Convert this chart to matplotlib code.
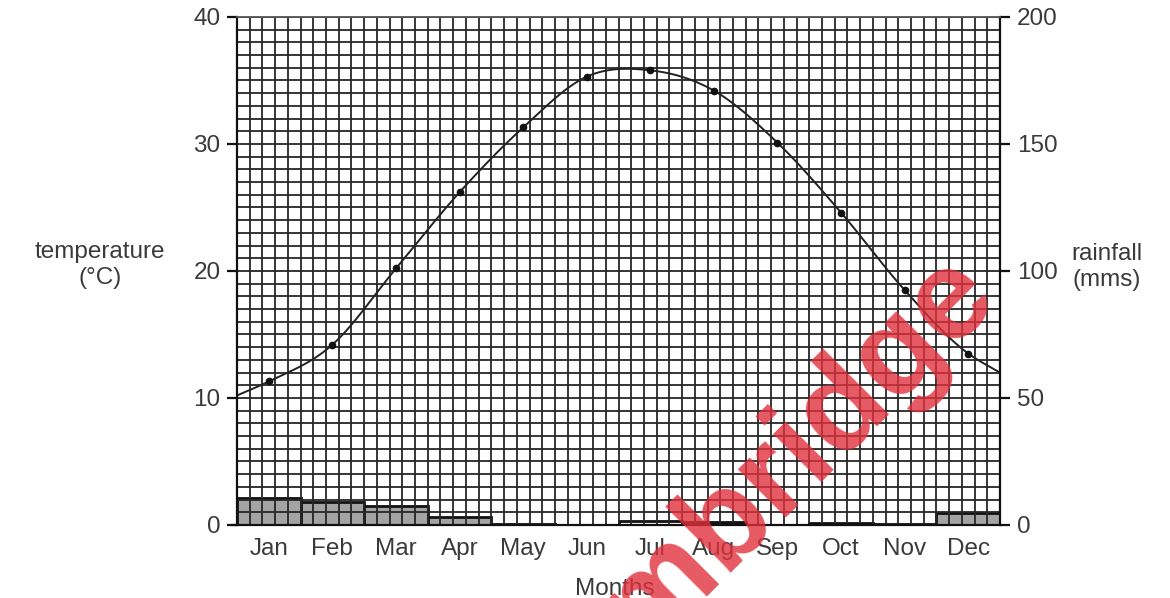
import numpy as np
import matplotlib
matplotlib.use("Agg")
import matplotlib.pyplot as plt

months = ["Jan", "Feb", "Mar", "Apr", "May", "Jun", "Jul", "Aug", "Sep", "Oct", "Nov", "Dec"]
temperature = [11.3, 14.2, 20.2, 26.2, 31.3, 35.3, 35.8, 34.2, 30.1, 24.6, 18.5, 13.5]
temp_start, temp_end = 10.2, 12.0          # where the curve meets the axes edges
rainfall = [10.6, 9.0, 7.5, 3.1, 0.3, 0.0, 1.4, 1.2, 0.0, 0.8, 0.2, 4.7]
rain_fill = ["#a4a4a4", "#a4a4a4", "#a4a4a4", "#a4a4a4", "#a4a4a4", "#a4a4a4",
             "white", "#333333", "#a4a4a4", "white", "#a4a4a4", "#a4a4a4"]
temp_ticks = [0, 10, 20, 30, 40]
rain_ticks = [0, 50, 100, 150, 200]

plt.rcParams['font.family'] = ['Liberation Sans', 'DejaVu Sans']
TXT = "#3a3a3a"
FS = 17.5

fig = plt.figure(figsize=(11.70, 5.98), dpi=100)
ax = fig.add_axes([0.2026, 0.1221, 0.6521, 0.8495])
ax.set_xlim(0, 12)
ax.set_ylim(0, 40)

# graph-paper grid
for xv in np.arange(0, 12.01, 0.2):
    ax.axvline(xv, color="#262626", lw=1.3, zorder=1)
for yv in np.arange(1, 40.01, 1):
    ax.axhline(yv, color="#262626", lw=1.3, zorder=1)

# rainfall bars on the twin axis
ax2 = ax.twinx()
ax2.set_ylim(0, 200)
ax2.set_xlim(0, 12)
xc = np.arange(12) + 0.5
ax2.bar(xc, rainfall, width=1.0, color=rain_fill, edgecolor="#111111", linewidth=2.0, zorder=3)

# temperature curve (smooth Hermite curve through the monthly points)
px = np.concatenate([[0.0], xc, [12.0]])
py = np.concatenate([[temp_start], temperature, [temp_end]])
m = np.gradient(py, px)
xs, ys = [], []
for i in range(len(px) - 1):
    h = px[i + 1] - px[i]
    t = np.linspace(0, 1, 30)
    h00 = 2 * t**3 - 3 * t**2 + 1
    h10 = t**3 - 2 * t**2 + t
    h01 = -2 * t**3 + 3 * t**2
    h11 = t**3 - t**2
    xs.append(px[i] + t * h)
    ys.append(h00 * py[i] + h10 * h * m[i] + h01 * py[i + 1] + h11 * h * m[i + 1])
ax.plot(np.concatenate(xs), np.concatenate(ys), color="#222222", lw=1.4, zorder=4)
ax.plot(xc, temperature, "o", color="#111111", ms=4.5, zorder=5)
ax.set_zorder(ax2.get_zorder() + 1)
ax.patch.set_visible(False)

for a in (ax, ax2):
    for s in a.spines.values():
        s.set_visible(False)

# axes lines
ax.plot([0, 0], [0, 40], color="#111111", lw=1.6, clip_on=False, zorder=6)
ax.plot([12, 12], [0, 40], color="#111111", lw=1.6, clip_on=False, zorder=6)
ax.plot([-0.08, 12], [0, 0], color="#111111", lw=1.6, clip_on=False, zorder=6)
ax.plot([0, 12], [40, 40], color="#555555", lw=1.3, clip_on=False, zorder=6)

ax.set_yticks(temp_ticks)
ax.set_yticklabels([str(v) for v in temp_ticks], fontsize=FS, color=TXT)
ax.tick_params(axis="y", length=7, width=1.6, color="#111111", pad=5)
ax2.set_yticks(rain_ticks)
ax2.set_yticklabels([str(v) for v in rain_ticks], fontsize=FS, color=TXT)
ax2.tick_params(axis="y", length=7, width=1.6, color="#111111", pad=5)

ax.set_xticks(np.arange(0, 13))
ax.set_xticklabels([])
ax.tick_params(axis="x", direction="out", length=8, width=1.6, color="#111111")
ax2.set_xticks([])
for i, mo in enumerate(months):
    ax.text(i + 0.5, -1.0, mo, ha="center", va="top", fontsize=FS, color=TXT)

fig.text(100 / 1170, 1 - 265 / 598, "temperature\n(°C)", ha="center", va="center",
         fontsize=FS, color=TXT, linespacing=1.2)
fig.text(1107 / 1170, 1 - 267 / 598, "rainfall\n(mms)", ha="center", va="center",
         fontsize=FS, color=TXT, linespacing=1.2)
fig.text(615 / 1170, 1 - 589 / 598, "Months", ha="center", va="center",
         fontsize=FS, color=TXT)

# watermark
fig.text(1000 / 1170, 1 - 298 / 598, "Cambridge", rotation=45, rotation_mode="anchor",
         ha="right", va="baseline", fontsize=92, fontweight="bold", color="#e0303c",
         alpha=0.8, zorder=20)

fig.savefig("out.png", dpi=100)
